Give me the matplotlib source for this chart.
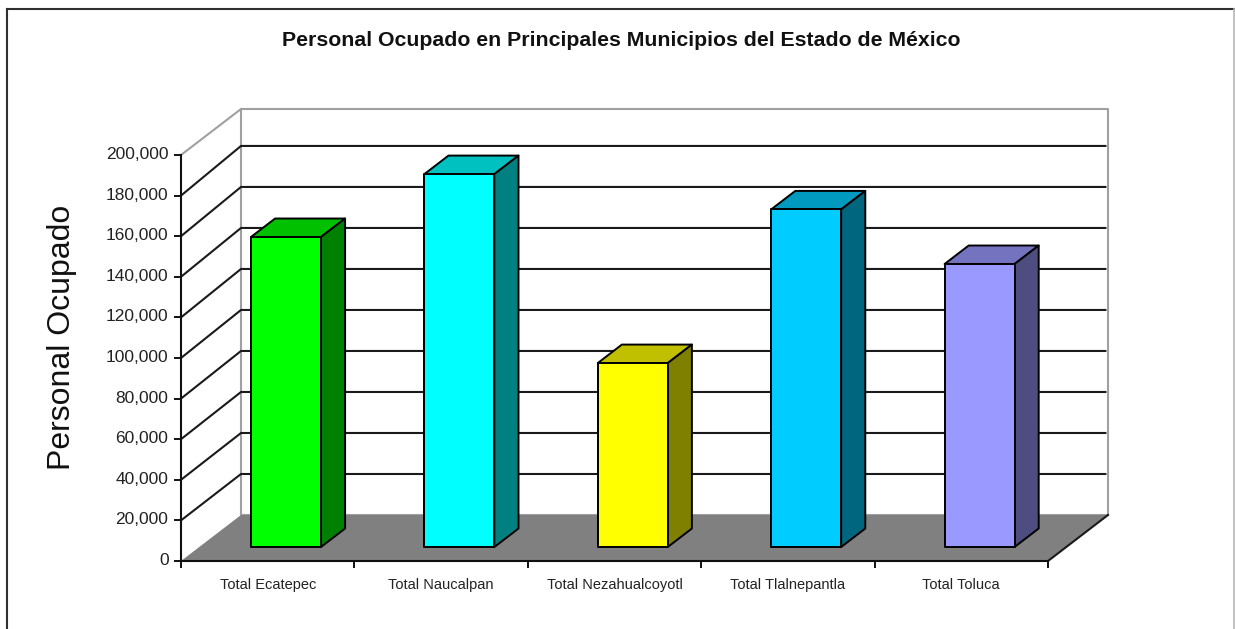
import matplotlib
matplotlib.use('Agg')
import matplotlib.pyplot as plt
from matplotlib.lines import Line2D
from matplotlib.patches import Polygon
from matplotlib.transforms import ScaledTranslation

municipios = ['Total Ecatepec', 'Total Naucalpan', 'Total Nezahualcoyotl', 'Total Tlalnepantla', 'Total Toluca']
personal = [152700, 183700, 90600, 166300, 139400]
front_colors = ['#00ff00', '#00ffff', '#ffff00', '#00ccff', '#9999ff']
top_colors = ['#00c000', '#00c0c0', '#c0c000', '#0099c0', '#7373c0']
side_colors = ['#008000', '#008080', '#808000', '#006680', '#4d4d80']
y_ticks = [0, 20000, 40000, 60000, 80000, 100000, 120000, 140000, 160000, 180000, 200000]

W, H = 1235, 629
fig = plt.figure(figsize=(W / 100, H / 100), dpi=100)
plt.rcParams['font.family'] = ['Liberation Sans']


def frame_line(x0, y0, x1, y1, color, lw):
    fig.add_artist(Line2D([x0 / W, x1 / W], [1 - y0 / H, 1 - y1 / H], transform=fig.transFigure,
                          color=color, lw=lw))


# outer frame, the right side is only a pale line
frame_line(7, 9, W, 9, '#303030', 1.5)
frame_line(7, 9, 7, H, '#303030', 1.5)
frame_line(1234, 9, 1234, H, '#b8b8b8', 1.2)

# front plane of the fake 3d box, left 181 to 1048 px, bottom 561, top 155
ax = fig.add_axes([181 / W, 1 - 561 / H, 867 / W, 406 / H])
ax.set_xlim(0, 5)
ax.set_ylim(0, 200000)
ax.patch.set_visible(False)

# depth of the box in data units
DX = 60 / 173.4
DY = 46 / 406 * 200000


def pt(x, v, d=0.0):
    return (x + d * DX, v + d * DY)


def face(points, color, z, ec='black', lw=1.4):
    ax.add_patch(Polygon(points, closed=True, fc=color, ec=ec, lw=lw, zorder=z,
                         clip_on=False, joinstyle='round'))


# back wall, side wall, floor
top = y_ticks[-1]
face([pt(0, 0, 1), pt(5, 0, 1), pt(5, top, 1), pt(0, top, 1)], 'white', 1, ec='#a0a0a0', lw=1.5)
face([pt(0, 0), pt(5, 0), pt(5, 0, 1), pt(0, 0, 1)], '#808080', 2, ec='none', lw=0)

for v in y_ticks[1:-1]:
    # the back wall grid sits a hair higher than the front ticks
    back = v * 1.01
    ax.plot(*zip(pt(0, v), pt(0, back, 1), pt(4.985, back, 1)), color='#1a1a1a', lw=1.5, zorder=1.5,
            clip_on=False)
ax.plot(*zip(pt(0, top), pt(0, top, 1)), color='#a0a0a0', lw=1.5, zorder=1.5, clip_on=False)
ax.plot(*zip(pt(5, 0), pt(5, 0, 1)), color='#1a1a1a', lw=1.5, zorder=3, clip_on=False)

# bars
bar_w = 70 / 173.4
d0, d1 = 14 / 46, 32.5 / 46
for i, v in enumerate(personal):
    x0 = i + 0.5 - bar_w / 2
    x1 = i + 0.5 + bar_w / 2
    face([pt(x0, v, d0), pt(x1, v, d0), pt(x1, v, d1), pt(x0, v, d1)], top_colors[i], 4)
    face([pt(x1, 0, d0), pt(x1, 0, d1), pt(x1, v, d1), pt(x1, v, d0)], side_colors[i], 4)
    face([pt(x0, 0, d0), pt(x1, 0, d0), pt(x1, v, d0), pt(x0, v, d0)], front_colors[i], 5)

for s in ['top', 'right']:
    ax.spines[s].set_visible(False)
for s in ['left', 'bottom']:
    ax.spines[s].set_linewidth(1.5)
    ax.spines[s].set_color('#101010')
    ax.spines[s].set_zorder(6)

ax.set_yticks(y_ticks)
ax.set_yticklabels([f'{v:,}' for v in y_ticks], fontsize=12.5, color='#222222')
ax.tick_params(axis='y', length=5, width=1.4, pad=4, color='#101010')
# labels sit a little above their ticks
for label in ax.get_yticklabels():
    label.set_transform(label.get_transform() + ScaledTranslation(0, 2 / 100, fig.dpi_scale_trans))
ax.set_xticks(range(6))
ax.set_xticklabels([])
ax.set_xticks([i + 0.5 for i in range(5)], labels=municipios, minor=True)
ax.tick_params(axis='x', which='major', length=5, width=1.4, color='#101010')
ax.tick_params(axis='x', which='minor', length=0, pad=12, labelsize=10.5, labelcolor='#222222')

fig.text(621 / W, 1 - 41 / H, 'Personal Ocupado en Principales Municipios del Estado de México',
         ha='center', va='center', fontsize=15.3, fontweight='bold', color='#111111')
fig.text(62 / W, 1 - 337 / H, 'Personal Ocupado', rotation=90, ha='center', va='center',
         fontsize=23, color='#111111')

fig.savefig('out.png', dpi=100)
